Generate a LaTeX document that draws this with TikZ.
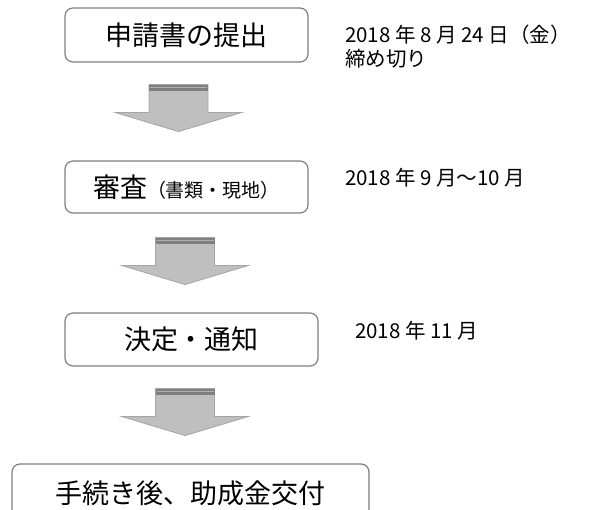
\documentclass[tikz,border=0pt]{standalone}
\usepackage{fontspec}
\setmainfont{Noto Sans CJK JP}
\usepackage{xcolor}
\usetikzlibrary{calc,positioning}
\definecolor{boxline}{HTML}{7F7F7F}
\definecolor{arrowfill}{HTML}{BFBFBF}
\definecolor{arrowline}{HTML}{A5A5A5}
\definecolor{arrowband}{HTML}{7F7F7F}
\definecolor{bandline}{HTML}{B0B0B0}
\tikzset{
  stepbox/.style={draw=boxline, line width=1.2pt, rounded corners=8pt, fill=white,
    inner sep=0pt, font=\fontsize{27}{27}\selectfont},
  sidetext/.style={anchor=west, align=left, inner sep=0pt, font=\fontsize{20.5}{24}\selectfont},
}
% block arrow: #1 = name of the box above, #2 = x shift, #3 = gap below the box
\newcommand{\blockarrow}[3]{%
  \coordinate (top) at ($(#1.south)+(#2,#3)$);
  \filldraw [fill=arrowfill, draw=arrowline, line width=0.8pt]
    ($(top)+(-29.5,0)$) -- ($(top)+(29.5,0)$) -- ($(top)+(29.5,28)$) -- ($(top)+(63,28)$)
    -- ($(top)+(0,47)$) -- ($(top)+(-63,28)$) -- ($(top)+(-29.5,28)$) -- cycle;
  \fill [arrowband] ($(top)+(-29.5,0)$) rectangle ($(top)+(29.5,6)$);
  \draw [bandline, line width=0.8pt] ($(top)+(-28.5,3.2)$) -- ($(top)+(28.5,3.2)$);
}
\begin{document}
\begin{tikzpicture}[x=1pt, y=-1pt]
	\useasboundingbox (0,0) rectangle (590,510);
	\clip (0,0) rectangle (590,510);
	% boxes
	\node [stepbox, minimum width=243pt, minimum height=54pt] (shinsei) at (186.5,35) {申請書の提出};
	\node [stepbox, minimum width=243pt, minimum height=52pt] (shinsa) at (186.5,187)
		{審査{\fontsize{19}{19}\selectfont（書類・現地）}};
	\node [stepbox, minimum width=253pt, minimum height=53pt] (kettei) at (191.5,339.5) {決定・通知};
	\node [stepbox, minimum width=357pt, minimum height=58pt] (koufu) at (190.5,493) {手続き後、助成金交付};
	% dates
	\node [sidetext] (shimekiri) at (345,47) {2018 年 8 月 24 日（金）\\締め切り};
	\node [sidetext] (kikan) at (345,178) {2018 年 9 月～10 月};
	\node [sidetext] (tsuuchi) at (355,331) {2018 年 11 月};
	% arrows
	\blockarrow{shinsei}{-8}{22}
	\blockarrow{shinsa}{-1.5}{24}
	\blockarrow{kettei}{-6.5}{22}
\end{tikzpicture}
\end{document}
